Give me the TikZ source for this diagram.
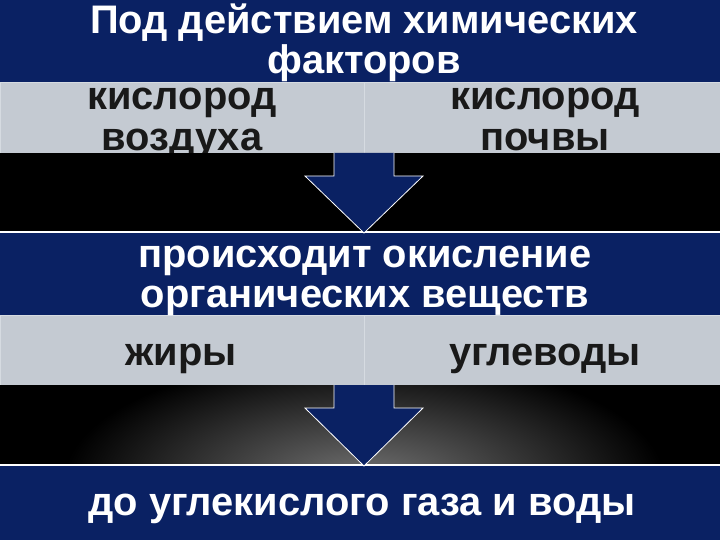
\documentclass[tikz,border=0pt]{standalone}
\usepackage{fontspec}
\setmainfont{Liberation Sans}
\usetikzlibrary{positioning}
\definecolor{navy}{RGB}{10,33,99}
\definecolor{cellgray}{RGB}{196,202,210}
\definecolor{cellline}{RGB}{214,219,225}

\begin{document}
\begin{tikzpicture}[
    x=1bp, y=-1bp,
    band/.style={rectangle, fill=navy, inner sep=0pt, minimum width=720bp, anchor=north west},
    cell/.style={rectangle, fill=cellgray, draw=cellline, line width=1bp, inner sep=0pt, anchor=north west},
    darkband/.style={rectangle, fill=black, inner sep=0pt, minimum width=720bp, anchor=north west},
    headtext/.style={text=white, font=\fontsize{40}{41}\selectfont\bfseries, align=center, anchor=base, inner sep=0pt},
    celltext/.style={text=black!90, font=\fontsize{40}{42}\selectfont\bfseries, align=center, anchor=base, inner sep=0pt},
    bigarrow/.style={fill=navy, draw=white, line width=0.8bp, line join=miter},
    topline/.style={draw=white, line width=1.2bp}
]
\useasboundingbox (0,0) rectangle (720,540);
\fill[black] (0,0) rectangle (720,540);

% Top: factors
\node[band, minimum height=82bp] (factors) at (0,0) {};
\node[cell, minimum width=364bp, minimum height=71bp] (air) at (0,82) {};
\node[cell, minimum width=356bp, minimum height=71bp] (soil) at (364,82) {};
\node[headtext] (factorstext) at (364,74) {Под действием химических\\факторов};
\node[celltext] (airtext) at (182,151) {кислород\\воздуха};
\node[celltext] (soiltext) at (545,151) {кислород\\почвы};
\node[darkband, minimum height=79bp] (gap1) at (0,153) {};

% Middle: oxidation
\node[band, minimum height=83bp] (oxid) at (0,232) {};
\draw[topline] (oxid.north west) -- (oxid.north east);
\node[cell, minimum width=364bp, minimum height=70bp] (fats) at (0,315) {};
\node[cell, minimum width=356bp, minimum height=70bp] (carbs) at (364,315) {};
\node[headtext, font=\fontsize{40}{40}\selectfont\bfseries] (oxidtext) at (365,307) {происходит окисление\\органических веществ};
\node[celltext] (fatstext) at (181,365) {жиры};
\node[celltext] (carbstext) at (545,365) {углеводы};
\node[darkband, minimum height=80bp] (gap2) at (0,385) {};
\begin{scope}
  \clip (gap2.north west) rectangle (gap2.south east);
  \shade[inner color=black!55, outer color=black] (364,480) ellipse (300 and 125);
\end{scope}

% Bottom: result
\node[band, minimum height=75bp] (result) at (0,465) {};
\draw[topline] (result.north west) -- (result.north east);
\node[headtext, font=\fontsize{40}{40}\selectfont\bfseries] (resulttext) at (362,515) {до углекислого газа и воды};

% Arrows
\path[bigarrow] (334,153) -- (334,176) -- (305,176) -- (364,233) -- (423,176) -- (394,176) -- (394,153);
\path[bigarrow] (334,385) -- (334,408) -- (305,408) -- (364,466) -- (423,408) -- (394,408) -- (394,385);

\end{tikzpicture}
\end{document}
